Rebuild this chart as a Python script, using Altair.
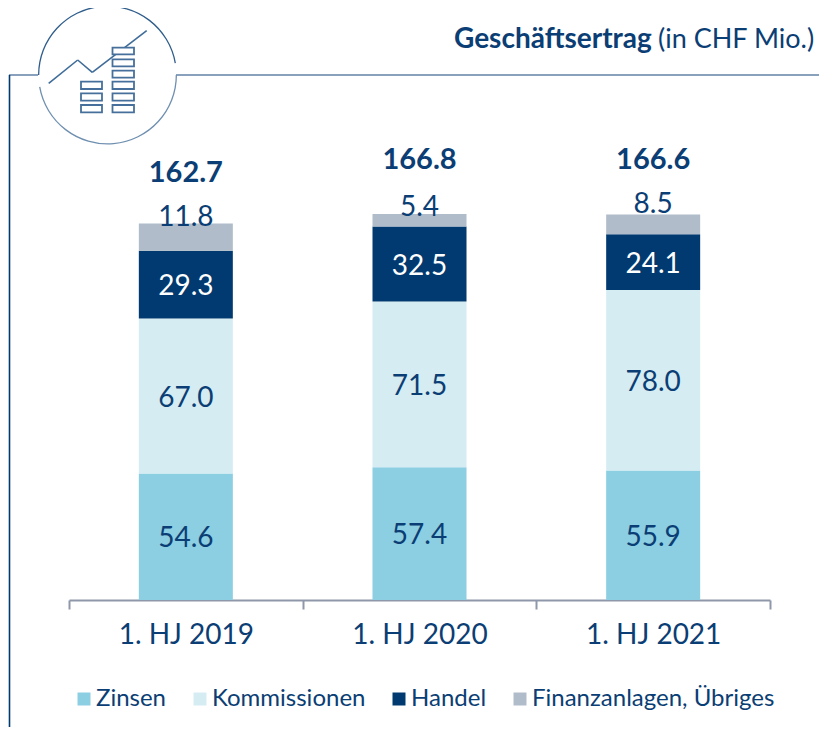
import altair as alt
import pandas as pd

periods = ["1. HJ 2019", "1. HJ 2020", "1. HJ 2021"]
series = ["Zinsen", "Kommissionen", "Handel", "Finanzanlagen, Übriges"]
zinsen = [54.6, 57.4, 55.9]
kommissionen = [67.0, 71.5, 78.0]
handel = [29.3, 32.5, 24.1]
uebriges = [11.8, 5.4, 8.5]
totals = [162.7, 166.8, 166.6]
colors = ["#8ccee2", "#d5ecf3", "#003a70", "#b0bcc9"]

NAVY = "#0b3e74"
FONT = "Lato"

rows = []
for i, p in enumerate(periods):
    base = 0.0
    for k, (s, vals) in enumerate(zip(series, [zinsen, kommissionen, handel, uebriges])):
        v = vals[i]
        rows.append({"period": p, "series": s, "order": k, "value": v,
                     "label": f"{v:.1f}", "mid": base + v / 2, "top": base + v})
        base += v
df = pd.DataFrame(rows)
tot = pd.DataFrame({"period": periods, "total": totals, "label": [f"{t:.1f}" for t in totals]})

X = alt.X("period:N", sort=periods, title=None,
          scale=alt.Scale(paddingInner=0, paddingOuter=0),
          axis=alt.Axis(labelAngle=0, labelFont=FONT, labelFontSize=28, labelColor=NAVY,
                        labelPadding=12, domainColor="#8f97aa", domainWidth=2,
                        tickColor="#8f97aa", tickWidth=2, tickSize=9, tickBand="extent",
                        grid=False))
Yscale = alt.Scale(domain=[0, 216], nice=False)

bars = alt.Chart(df).mark_bar(size=94).encode(
    x=X,
    y=alt.Y("value:Q", stack="zero", scale=Yscale, axis=None),
    order=alt.Order("order:Q"),
    color=alt.Color("series:N", sort=series,
                    scale=alt.Scale(domain=series, range=colors),
                    legend=alt.Legend(orient="none", legendX=3, legendY=587, title=None,
                                      direction="horizontal", columns=4, gridAlign="none",
                                      columnPadding=21, symbolType="square", symbolSize=169,
                                      symbolStrokeWidth=0, symbolOpacity=1, labelOffset=0,
                                      labelLimit=400,
                                      labelFont=FONT, labelFontSize=24, labelColor=NAVY)),
)


def seg_text(filter_expr, color, dy=0, field="mid"):
    return alt.Chart(df).transform_filter(filter_expr).mark_text(
        font=FONT, fontSize=28, color=color, dy=dy).encode(
        x=X,
        y=alt.Y(f"{field}:Q", scale=Yscale, axis=None),
        text="label:N",
    )


inner_dark = seg_text("datum.order < 2", NAVY, dy=2.5)
inner_white = seg_text("datum.order == 2", "white", dy=2.5)
top_a = seg_text("datum.order == 3 && datum.period != '1. HJ 2021'", NAVY, dy=-5.5, field="top")
top_b = seg_text("datum.order == 3 && datum.period == '1. HJ 2021'", NAVY, dy=-10, field="top")


def total_text(filter_expr, dy):
    return alt.Chart(tot).transform_filter(filter_expr).mark_text(
        font=FONT, fontSize=29, fontWeight="bold", color=NAVY, dy=dy).encode(
        x=X,
        y=alt.Y("total:Q", scale=Yscale, axis=None),
        text="label:N",
    )


total_a = total_text("datum.period == '1. HJ 2019'", -50.5)
total_b = total_text("datum.period != '1. HJ 2019'", -54)

# Decoration, drawn in image pixels relative to the plot origin at (69, 100)
one = alt.Data(values=[{"_": 0}])
OX, OY = 69, 100


def seg(x0, y0, x1, y1, color, w):
    return alt.Chart(one).mark_rule(color=color, strokeWidth=w).encode(
        x=alt.value(x0 - OX), x2=alt.value(x1 - OX),
        y=alt.value(y0 - OY), y2=alt.value(y1 - OY))


def box(x0, y0, x1, y1):
    return alt.Chart(one).mark_rect(fill="white", stroke="#46709b", strokeWidth=1.8).encode(
        x=alt.value(x0 - OX), x2=alt.value(x1 - OX),
        y=alt.value(y0 - OY), y2=alt.value(y1 - OY))


def arc(t0, t1, color):
    d = 3.141592653589793 / 180
    return alt.Chart(one).mark_arc(theta=t0 * d, theta2=t1 * d, radius=69.5, radius2=68.2,
                                   color=color).encode(
        x=alt.value(107.5 - OX), y=alt.value(75 - OY))


decor = [
    seg(9, 75, 38, 75, "#8aa1bd", 2),
    seg(176, 75, 827, 75, "#8aa1bd", 2),
    seg(9.5, 75, 9.5, 739, "#003a70", 1.6),
    arc(270, 440, "#2f5d8b"),
    arc(90, 260, "#6f8fb0"),
    seg(48.7, 83.3, 77.7, 60, "#3f6c98", 1.6),
    seg(77.7, 60, 92.3, 72.3, "#3f6c98", 1.6),
    seg(92.3, 72.3, 146.7, 30.7, "#3f6c98", 1.6),
]
for y0, y1 in [(81.7, 89), (93.3, 100.7), (105, 112.3)]:
    decor.append(box(81, y0, 102, y1))
for y0, y1 in [(47.7, 54.3), (59.3, 66.3), (70.7, 77.7), (81.7, 89), (93.3, 100.7), (105, 112.3)]:
    decor.append(box(112.5, y0, 134, y1))

title_b = alt.Chart(one).mark_text(text="Geschäftsertrag", font=FONT, fontSize=28, fontWeight="bold",
                                   color=NAVY, align="left", baseline="middle").encode(
    x=alt.value(454 - OX), y=alt.value(40 - OY))
title_r = alt.Chart(one).mark_text(text="(in CHF Mio.)", font=FONT, fontSize=27,
                                   color=NAVY, align="left", baseline="middle").encode(
    x=alt.value(658 - OX), y=alt.value(40 - OY))

chart = alt.layer(
    bars, inner_dark, inner_white, top_a, top_b, total_a, total_b,
    *decor, title_b, title_r,
).properties(
    width=701, height=500,
    autosize=alt.AutoSizeParams(type="none"),
    padding={"left": 61, "top": 92, "right": 49, "bottom": 127},
    background="white",
).configure_view(stroke=None)

chart.save("out.html", embed_options={"renderer": "svg", "actions": False})
